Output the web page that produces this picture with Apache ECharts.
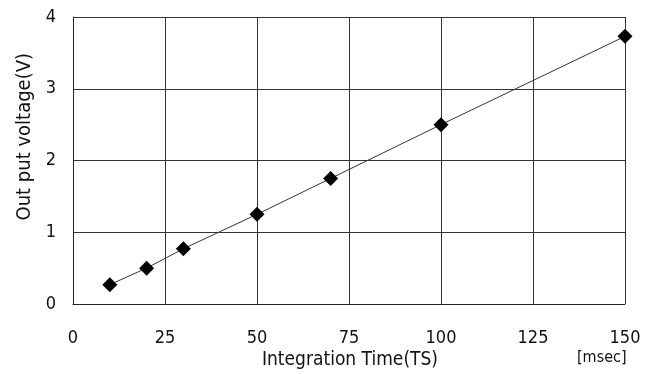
<!DOCTYPE html>
<html>
<head>
<meta charset="utf-8">
<script src="https://cdn.jsdelivr.net/npm/echarts@6/dist/echarts.min.js"></script>
<style>
  html, body { margin: 0; padding: 0; background: #fff; }
  #chart { width: 651px; height: 374px; }
</style>
</head>
<body>
<div id="chart"></div>
<script>
// integration time (msec) vs output voltage (V)
const timeMs = [10, 20, 30, 50, 70, 100, 150];
const voltage = [0.27, 0.5, 0.77, 1.25, 1.75, 2.5, 3.73];
const xTicks = [0, 25, 50, 75, 100, 125, 150];
const yTicks = [0, 1, 2, 3, 4];

const font = '"DejaVu Sans Condensed", sans-serif';

const chart = echarts.init(document.getElementById('chart'));
chart.setOption({
  animation: false,
  grid: { left: 73, right: 26, top: 17, bottom: 70 },
  xAxis: {
    type: 'value',
    min: xTicks[0],
    max: xTicks[xTicks.length - 1],
    interval: 25,
    axisLine: { show: true, lineStyle: { color: '#222', width: 1 } },
    axisTick: { show: false },
    axisLabel: { color: '#111', fontSize: 18, fontFamily: font, margin: 25 },
    splitLine: { show: true, lineStyle: { color: '#333', width: 1 } }
  },
  yAxis: {
    type: 'value',
    min: yTicks[0],
    max: yTicks[yTicks.length - 1],
    interval: 1,
    axisLine: { show: true, lineStyle: { color: '#222', width: 1 } },
    axisTick: { show: false },
    axisLabel: { color: '#111', fontSize: 18, fontFamily: font, margin: 17 },
    splitLine: { show: true, lineStyle: { color: '#333', width: 1 } }
  },
  graphic: [
    {
      type: 'text', left: 262, top: 351,
      style: { text: 'Integration Time(TS)', fill: '#111', font: '19px ' + font }
    },
    {
      type: 'text', left: 577, top: 350,
      style: { text: '[msec]', fill: '#111', font: '16px ' + font }
    },
    {
      type: 'text', left: 15, top: 53,
      rotation: Math.PI / 2,
      style: { text: 'Out put voltage(V)', fill: '#111', font: '20px ' + font }
    }
  ],
  series: [{
    type: 'line',
    data: timeMs.map((t, i) => [t, voltage[i]]),
    symbol: 'diamond',
    symbolSize: 15,
    itemStyle: { color: '#000' },
    lineStyle: { color: '#333', width: 1 }
  }]
});
</script>
</body>
</html>
